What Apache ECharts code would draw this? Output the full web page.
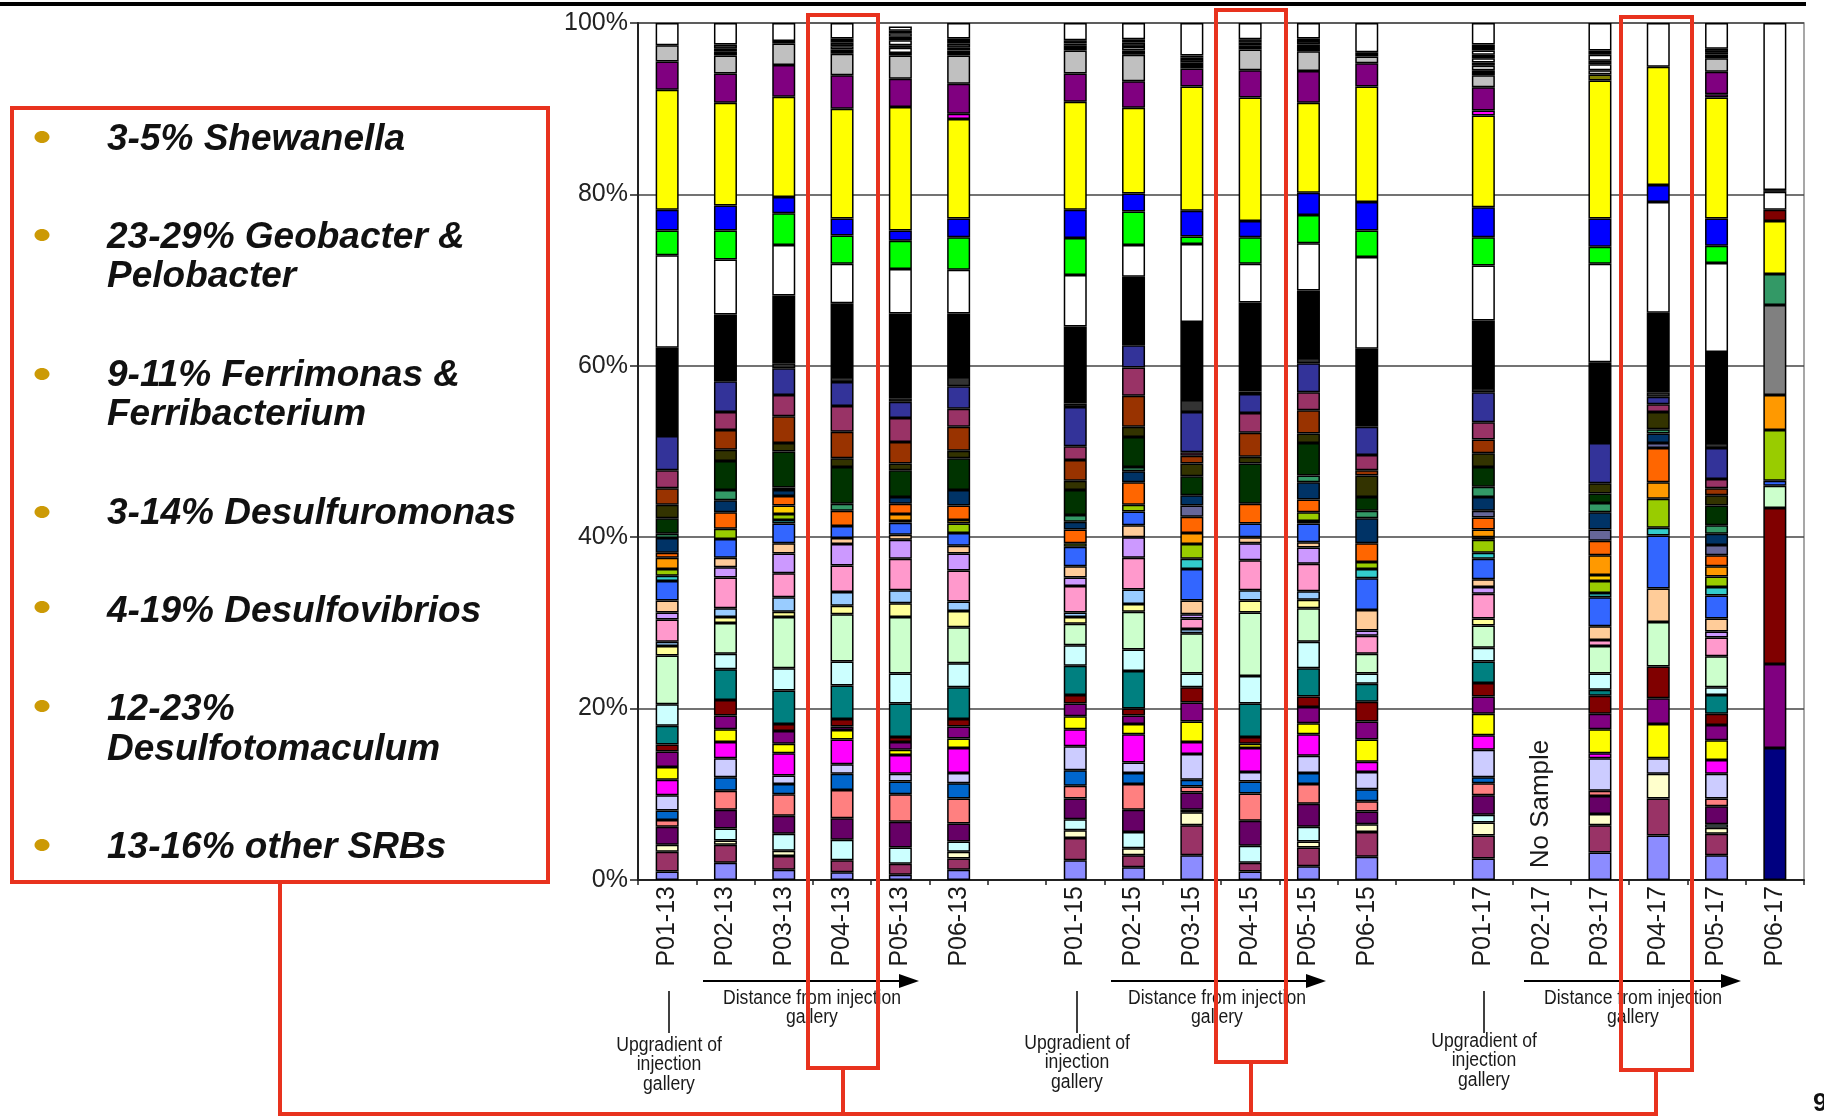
<!DOCTYPE html>
<html>
<head>
<meta charset="utf-8">
<script src="https://cdn.jsdelivr.net/npm/echarts@6/dist/echarts.min.js"></script>
<style>
  html, body { margin: 0; padding: 0; background: #fff; }
  #chart { width: 1824px; height: 1118px; }
</style>
</head>
<body>
<div id="chart"></div>
<script>
// Sample wells, three sampling rounds (-13, -15, -17); empty slots separate the rounds.
const categories = [
  'P01-13', 'P02-13', 'P03-13', 'P04-13', 'P05-13', 'P06-13', '',
  'P01-15', 'P02-15', 'P03-15', 'P04-15', 'P05-15', 'P06-15', '',
  'P01-17', 'P02-17', 'P03-17', 'P04-17', 'P05-17', 'P06-17'
];
const yTicks = [0, 20, 40, 60, 80, 100];

// Relative abundance (%) of each clone group, per sample, in the order:
// P01-13..P06-13, P01-15..P06-15, P01-17..P06-17 (P02-17: no sample).
const navy0       = [0,0,0,0,0,0, 0,0,0,0,0,0, 0,0,0,0,0,15.4];
const periwinkle  = [1.0,2.0,1.2,0.9,0.6,1.2, 2.3,1.5,2.9,1.0,1.6,2.7, 2.5,0,3.2,5.2,2.9,0];
const plum        = [2.3,2.1,1.6,1.4,1.3,1.3, 2.6,1.4,3.5,1.0,2.2,2.9, 2.7,0,3.2,4.3,2.5,0];
const ltYellow    = [0.8,0.5,0.6,0,0,0.8, 0.9,0.8,1.5,0,0.7,0.9, 1.5,0,1.3,2.9,0.7,0];
const ltCyanLow   = [0,1.4,2.0,2.4,1.9,1.2, 1.3,1.9,0.3,2.0,1.7,0, 0.9,0,0,0,0.4,0];
const dkPurple    = [2.1,2.2,2.1,2.5,3.0,2.1, 2.4,2.6,2.0,2.9,2.7,1.5, 2.3,0,2.1,0,2.1,0];
const salmon      = [0.8,2.2,2.5,3.3,3.2,2.9, 1.5,3.0,0.7,3.2,2.3,1.2, 1.4,0,0.6,0,0.9,0];
const blue66      = [1.1,1.6,1.2,1.9,1.5,1.8, 1.8,1.3,0.8,1.4,1.3,1.4, 0.7,0,0,0,0,0];
const lavender    = [1.8,2.2,1.0,1.1,0.9,1.2, 2.8,1.2,3.0,1.1,2.0,2.0, 3.2,0,3.8,1.8,2.9,0];
const magenta     = [1.8,1.9,2.6,2.9,2.2,2.9, 2.0,3.3,1.4,2.8,2.5,1.2, 1.7,0,0.6,0,1.6,0];
const yellow      = [1.5,1.5,1.1,1.1,0.6,1.1, 1.5,1.2,2.4,0.5,1.3,2.6, 2.5,0,2.8,4.0,2.3,0];
const purple      = [1.8,1.6,1.5,0.4,0.9,1.4, 1.5,1.0,2.2,0,1.9,2.1, 2.0,0,1.8,3.0,1.8,9.8];
const darkRed     = [0.8,1.8,0.8,0.9,0.6,0.9, 1.0,0.8,1.8,0.8,1.2,2.3, 1.6,0,2.1,3.7,1.3,18.2];
const teal        = [2.2,3.6,3.9,3.9,3.9,3.7, 3.4,4.4,0,3.9,3.3,2.1, 2.5,0,0.7,0,2.2,0];
const ltCyan      = [2.5,1.8,2.6,2.8,3.5,2.8, 2.4,2.5,1.6,3.2,3.1,1.2, 1.6,0,1.9,0,0.9,0];
const ltGreen     = [5.7,3.6,6.0,5.5,6.6,4.2, 2.5,4.4,4.7,7.4,3.9,2.3, 2.6,0,3.2,5.2,3.6,2.6];
const paleYellow  = [1.1,0.7,0.6,1.0,1.6,1.9, 0.8,0.9,0,1.4,1.0,0, 0.8,0,0,0,0,0];
const ltBlue      = [0.5,1.0,1.7,1.6,1.5,1.1, 0.5,1.7,0.5,1.2,1.0,0, 0,0,0,0,0,0];
const pink        = [2.6,3.6,2.8,3.1,3.7,3.6, 3.1,3.7,1.2,3.5,3.2,2.1, 2.9,0,0.7,0,2.2,0];
const ltPurple    = [0.8,1.2,2.3,2.5,2.2,2.0, 1.0,2.4,0.5,2.0,1.9,0.6, 0.8,0,0,0,0.7,0];
const peach       = [1.4,1.1,1.2,0.7,0.6,0.9, 1.3,1.4,1.6,0.7,0.6,2.4, 0.9,0,1.6,3.9,1.5,0];
const blue33      = [2.3,2.2,2.3,1.4,1.4,1.5, 2.3,1.6,3.7,1.6,2.2,3.7, 2.4,0,3.4,6.2,2.7,0.6];
const turquoise   = [0.6,0,0.4,0,0.2,0, 0,0,1.2,0,0.3,1.1, 0.7,0,0.5,0.9,1.0,0];
const yellowGreen = [0.8,1.2,0.7,0,0,1.1, 0.4,0.8,1.7,0,1.0,0.8, 1.5,0,1.4,3.4,1.2,5.9];
const gold        = [0,0,1.0,0,0,0.4, 0,0,0,0,0,0, 0.3,0,0.7,0,0,0];
const orange      = [1.3,0,0,0,0.8,0, 0,0,1.3,0,0,0, 0.9,0,2.3,1.9,1.2,4.1];
const orangeRed   = [0.6,1.9,1.1,1.8,1.2,1.7, 1.6,2.6,1.9,2.3,1.5,2.2, 1.4,0,1.7,4.0,1.3,0];
const gray80      = [0,0,0,0,0,0, 0,0,0,0,0,0, 0,0,0,0,0,10.5];
const slate       = [0,0,0,0,0,0, 0,0,1.3,0,0,0, 0.8,0,1.3,0.6,1.2,0];
const navy        = [1.7,1.4,0.7,0,0.8,1.8, 0.9,1.3,1.2,0,2.0,2.9, 1.6,0,2.0,1.1,1.3,0];
const seaGreen    = [0.5,1.2,0.3,0.8,0,0, 0.8,0.5,0,0,0.8,0.9, 1.2,0,1.1,0.5,1.0,3.6];
const dkGreen     = [1.8,3.4,4.2,4.3,3.1,3.7, 2.9,3.5,2.2,4.7,3.8,1.6, 2.3,0,1.1,0,2.3,0];
const olive       = [1.6,1.3,1.0,1.0,0.8,0.9, 1.1,1.2,1.5,0.8,1.1,2.5, 1.6,0,1.2,2.0,1.2,0];
const brown       = [1.9,2.3,3.1,3.1,2.5,2.8, 2.4,3.6,0.9,2.8,2.7,0.6, 1.6,0,0,0,0.8,0];
const rose        = [2.1,2.1,2.5,3.0,2.8,2.1, 1.6,3.3,0.4,2.3,2.1,1.8, 2.0,0,0,0.9,1.1,0];
const indigo      = [4.0,3.6,3.1,2.8,1.9,2.6, 4.6,2.6,4.7,2.2,3.4,3.3, 3.5,0,4.7,0.9,3.6,0];
const dkGray      = [0,0,0.6,0.6,0.4,1.1, 0.4,0,1.4,0.3,0.6,0, 0.5,0,0,0.5,0.6,0];
const black       = [10.3,7.8,7.9,8.6,9.9,7.4, 9.0,8.0,9.1,10.4,7.9,9.1, 7.9,0,9.4,9.3,10.6,0];
const white       = [10.8,6.4,5.9,4.6,5.2,5.1, 6.0,3.7,9.1,4.5,5.5,10.7, 6.4,0,11.5,12.9,10.4,0];
const green       = [2.9,3.4,3.7,3.3,3.3,3.8, 4.3,3.9,0.9,3.1,3.3,3.1, 3.3,0,2.0,0,2.0,0];
const blue00      = [2.4,2.9,1.9,2.0,1.2,2.2, 3.3,2.1,3.0,1.9,2.6,3.3, 3.5,0,3.3,2.0,3.2,0];
const geoYellow   = [14.0,12.0,11.7,12.8,14.4,11.6, 12.6,10.0,14.5,14.4,10.5,13.5, 10.7,0,16.1,13.8,14.1,6.2];
const darkRed2    = [0,0,0,0,0,0, 0,0,0,0,0,0, 0,0,0,0,0,1.3];
const magenta2    = [0,0,0,0,0,0.6, 0,0,0,0,0,0, 0.6,0,0,0,0.4,0];
const olive2      = [0,0,0,0,0,0, 0,0,0,0,0,0, 0,0,0.7,0,0,0];
const purple2     = [3.3,3.4,3.7,3.9,3.3,3.5, 3.3,3.1,2.1,3.2,3.7,2.7, 2.7,0,0,0,2.6,0];
const silver      = [1.9,2.1,2.5,2.5,2.7,3.3, 2.7,3.1,0,2.4,2.3,0.8, 1.4,0,0.5,0,1.6,0];
const minor1      = [0,0.5,0.3,0.5,0.3,0.6, 0.6,0.5,0.4,0.5,0.5,0.5, 0.6,0,0,0,0.4,0];
const minor2      = [0,0.3,0,0.4,0.6,0.3, 0.2,0.4,0.3,0.3,0.3,0, 0.5,0,0.7,0,0.3,2.1];
const minor3      = [0,0.5,0,0.4,0.3,0.5, 0.4,0.5,0.4,0.4,0.4,0, 0.4,0,0.4,0,0.4,0.2];
const minor4      = [0,0,0,0.2,0.6,0.3, 0,0.2,0.2,0,0.3,0, 0.5,0,0.7,0,0,0];
const minor5      = [0,0,0,0.3,0.4,0.3, 0,0.2,0.2,0,0,0, 0.4,0,0.5,0,0,0];
const minor6      = [0,0,0,0,0.4,0, 0,0,0,0,0,0, 0.5,0,0,0,0,0];
const minor7      = [0,0,0,0,0.3,0, 0,0,0,0,0,0, 0.7,0,0,0,0,0];
const topWhite    = [2.6,2.5,2.1,1.8,0.5,1.8, 2.0,1.9,3.8,1.9,1.8,3.4, 2.5,0,3.2,5.1,3.0,19.5];

// Stack order, bottom to top, with the fill colour of each group.
const layers = [
  ['navy0', navy0, '#000080'], ['periwinkle', periwinkle, '#8C8CFF'], ['plum', plum, '#993366'],
  ['ltYellow', ltYellow, '#FFFFCC'], ['ltCyanLow', ltCyanLow, '#CCFFFF'], ['dkPurple', dkPurple, '#660066'],
  ['salmon', salmon, '#FF8080'], ['blue66', blue66, '#0066CC'], ['lavender', lavender, '#CCCCFF'],
  ['magenta', magenta, '#FF00FF'], ['yellow', yellow, '#FFFF00'], ['purple', purple, '#800080'],
  ['darkRed', darkRed, '#800000'], ['teal', teal, '#008080'], ['ltCyan', ltCyan, '#CCFFFF'],
  ['ltGreen', ltGreen, '#CCFFCC'], ['paleYellow', paleYellow, '#FFFF99'], ['ltBlue', ltBlue, '#99CCFF'],
  ['pink', pink, '#FF99CC'], ['ltPurple', ltPurple, '#CC99FF'], ['peach', peach, '#FFCC99'],
  ['blue33', blue33, '#3366FF'], ['turquoise', turquoise, '#33CCCC'], ['yellowGreen', yellowGreen, '#99CC00'],
  ['gold', gold, '#FFCC00'], ['orange', orange, '#FF9900'], ['orangeRed', orangeRed, '#FF6600'],
  ['gray80', gray80, '#808080'], ['slate', slate, '#666699'], ['navy', navy, '#003366'],
  ['seaGreen', seaGreen, '#339966'], ['dkGreen', dkGreen, '#003300'], ['olive', olive, '#333300'],
  ['brown', brown, '#993300'], ['rose', rose, '#993366'], ['indigo', indigo, '#333399'],
  ['dkGray', dkGray, '#333333'], ['black', black, '#000000'], ['white', white, '#FFFFFF'],
  ['green', green, '#00FF00'], ['blue00', blue00, '#0000FF'], ['geoYellow', geoYellow, '#FFFF00'],
  ['darkRed2', darkRed2, '#800000'], ['magenta2', magenta2, '#FF00FF'], ['olive2', olive2, '#808000'],
  ['purple2', purple2, '#800080'], ['silver', silver, '#C0C0C0'],
  ['minor1', minor1, '#000000'], ['minor2', minor2, '#FFFFFF'], ['minor3', minor3, '#333333'],
  ['minor4', minor4, '#FFFFFF'], ['minor5', minor5, '#000000'], ['minor6', minor6, '#FFFFFF'],
  ['minor7', minor7, '#000000'], ['topWhite', topWhite, '#FFFFFF']
];

// Spread 18 sample values over the 20 category slots (empty slots 6 and 13).
function toSlots(vals) {
  const out = [];
  vals.forEach((v, i) => {
    if (i === 6 || i === 12) out.push(null);
    out.push(v > 0 ? v : null);
  });
  return out;
}

const RED = '#E8321E';
const BULLET = '#CC9A06';
const bigFont = 'italic bold 37px "Liberation Sans", Arial, sans-serif';
const smallFont = '20px "Liberation Sans", Arial, sans-serif';

function txt(x, y, text, font, opts) {
  return Object.assign({
    type: 'text', x: x, y: y, z: 50,
    style: { text: text, font: font, fill: '#111', align: 'left', verticalAlign: 'middle',
             textAlign: 'left', textVerticalAlign: 'middle' }
  }, opts || {});
}
function ctxt(x, y, text) {
  return {
    type: 'text', x: x, y: y, scaleX: 0.88, z: 50,
    style: { text: text, font: smallFont, fill: '#1a1a1a', align: 'center', verticalAlign: 'middle',
             textAlign: 'center', textVerticalAlign: 'middle' }
  };
}
function line(points, color, width) {
  return { type: 'polyline', z: 60, shape: { points: points }, style: { stroke: color, lineWidth: width, fill: null } };
}
function frame(x, y, w, h) {
  return { type: 'rect', z: 70, shape: { x: x, y: y, width: w, height: h },
           style: { fill: null, stroke: RED, lineWidth: 4 } };
}
function arrow(x1, x2, y) {
  return [
    line([[x1, y], [x2 - 16, y]], '#000', 2),
    { type: 'polygon', z: 60, shape: { points: [[x2 - 20, y - 7], [x2, y], [x2 - 20, y + 7]] }, style: { fill: '#000' } }
  ];
}

const bulletItems = [
  { y: 137, lines: [[140, '3-5% Shewanella']] },
  { y: 235, lines: [[238, '23-29% Geobacter &'], [277, 'Pelobacter']] },
  { y: 374, lines: [[376, '9-11% Ferrimonas &'], [415, 'Ferribacterium']] },
  { y: 512, lines: [[514, '3-14% Desulfuromonas']] },
  { y: 607, lines: [[612, '4-19% Desulfovibrios']] },
  { y: 706, lines: [[710, '12-23%'], [750, 'Desulfotomaculum']] },
  { y: 845, lines: [[848, '13-16% other SRBs']] }
];

const graphics = [
  { type: 'rect', z: 40, shape: { x: 0, y: 2, width: 1806, height: 4 }, style: { fill: '#000' } },
  { type: 'rect', z: 40, shape: { x: 12, y: 108, width: 536, height: 774 }, style: { fill: null, stroke: RED, lineWidth: 4 } }
];
bulletItems.forEach(b => {
  graphics.push({ type: 'ellipse', z: 50, shape: { cx: 42, cy: b.y, rx: 7.5, ry: 6 }, style: { fill: BULLET } });
  b.lines.forEach(l => graphics.push(txt(107, l[0], l[1], bigFont)));
});

// Per-round annotations under the category labels
[[669, 703, 919, 812, 1045], [1077, 1111, 1326, 1217, 1043], [1484, 1524, 1741, 1633, 1041]].forEach(g => {
  graphics.push(line([[g[0], 991], [g[0], 1033]], '#000', 1.5));
  arrow(g[1], g[2], 981).forEach(e => graphics.push(e));
  graphics.push(ctxt(g[3], 998, 'Distance from injection'));
  graphics.push(ctxt(g[3], 1017, 'gallery'));
  graphics.push(ctxt(g[0], g[4], 'Upgradient of'));
  graphics.push(ctxt(g[0], g[4] + 19, 'injection'));
  graphics.push(ctxt(g[0], g[4] + 39, 'gallery'));
});

graphics.push({
  type: 'text', x: 1541, y: 804, rotation: Math.PI / 2, z: 50,
  style: { text: 'No Sample', font: '26px "Liberation Sans", Arial, sans-serif', fill: '#1a1a1a',
           align: 'center', verticalAlign: 'middle', textAlign: 'center', textVerticalAlign: 'middle' }
});

// Highlight frames around the P04 wells and their connectors
graphics.push(frame(808, 15, 70, 1053));
graphics.push(frame(1216, 10, 70, 1052));
graphics.push(frame(1621, 17, 71, 1053));
graphics.push(line([[843, 1068], [843, 1114]], RED, 4));
graphics.push(line([[1251, 1062], [1251, 1114]], RED, 4));
graphics.push(line([[1656, 1070], [1656, 1114]], RED, 4));
graphics.push(line([[280, 882], [280, 1114], [1658, 1114]], RED, 4));

graphics.push(txt(1813, 1104, '9', 'bold 26px "Liberation Sans", Arial, sans-serif'));

const chart = echarts.init(document.getElementById('chart'), null, { renderer: 'canvas' });
chart.setOption({
  animation: false,
  backgroundColor: '#ffffff',
  grid: { left: 638, right: 20, top: 23, bottom: 238, show: true, borderColor: '#8a8a8a', borderWidth: 1.5 },
  xAxis: {
    type: 'category',
    data: categories,
    axisLine: { lineStyle: { color: '#222', width: 2 } },
    axisTick: { show: true, interval: 0, length: 5, lineStyle: { color: '#222', width: 1.5 } },
    axisLabel: { interval: 0, rotate: 90, fontSize: 25, color: '#1a1a1a', margin: 6,
                 fontFamily: '"Liberation Sans", Arial, sans-serif' },
    splitLine: { show: false }
  },
  yAxis: {
    type: 'value',
    min: yTicks[0],
    max: yTicks[yTicks.length - 1],
    interval: 20,
    axisLine: { show: true, lineStyle: { color: '#222', width: 2 } },
    axisTick: { show: true, length: 8, lineStyle: { color: '#222', width: 1.5 } },
    axisLabel: { formatter: '{value}%', fontSize: 25, color: '#222', margin: 10,
                 fontFamily: '"Liberation Sans", Arial, sans-serif' },
    splitLine: { show: true, lineStyle: { color: '#444', width: 1.5 } }
  },
  series: layers.map(([name, vals, color]) => ({
    name: name,
    type: 'bar',
    stack: 'community',
    barWidth: 23,
    data: toSlots(vals),
    itemStyle: { color: color, borderColor: '#000', borderWidth: 1.5 },
    emphasis: { disabled: true }
  })),
  graphic: graphics
});
</script>
</body>
</html>
